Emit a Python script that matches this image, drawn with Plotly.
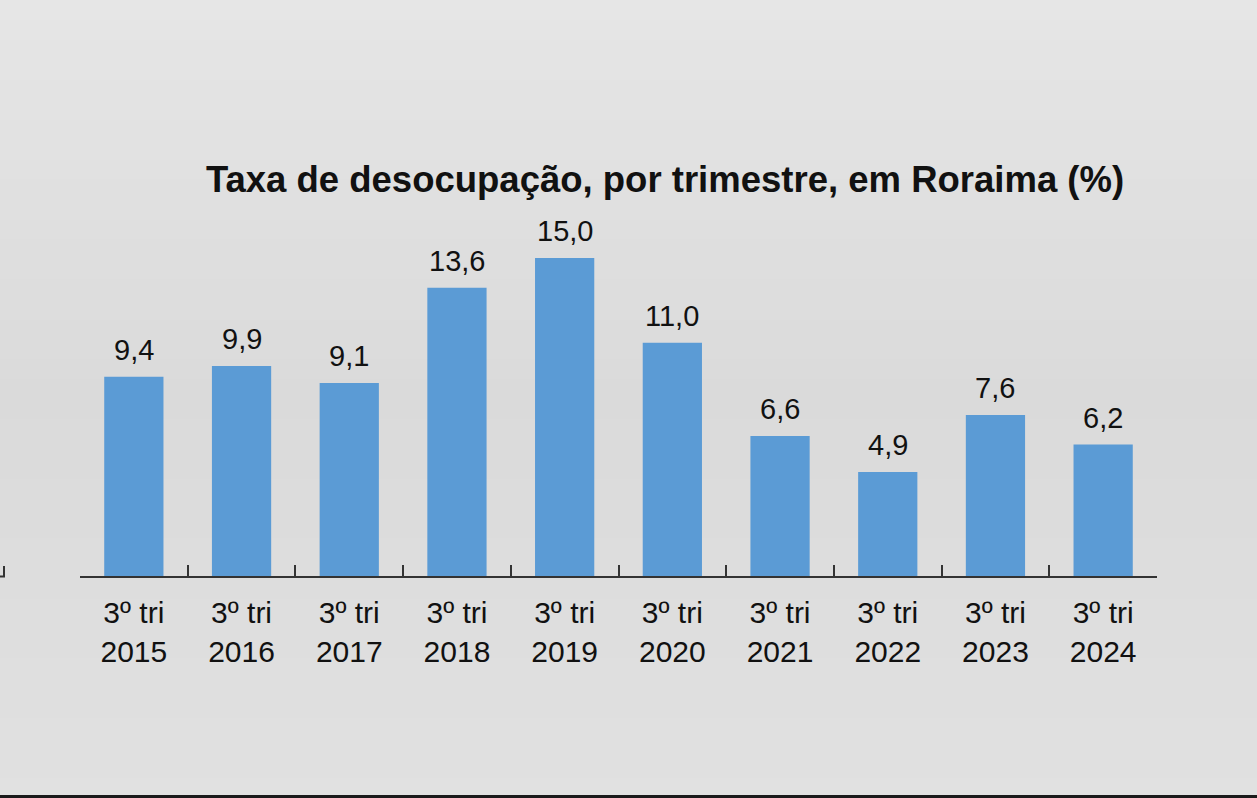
import plotly.graph_objects as go

categories = ["3º tri<br>2015", "3º tri<br>2016", "3º tri<br>2017", "3º tri<br>2018", "3º tri<br>2019",
              "3º tri<br>2020", "3º tri<br>2021", "3º tri<br>2022", "3º tri<br>2023", "3º tri<br>2024"]
values = [9.4, 9.9, 9.1, 13.6, 15.0, 11.0, 6.6, 4.9, 7.6, 6.2]
labels = ["9,4", "9,9", "9,1", "13,6", "15,0", "11,0", "6,6", "4,9", "7,6", "6,2"]
title_text = "Taxa de desocupação, por trimestre, em Roraima (%)"

W, H = 1257, 798
ML, MR, MT, MB = 80, 100, 152, 222
PH = H - MT - MB
PW = W - ML - MR
FONT = "Liberation Sans, Arial, sans-serif"

def py(p):
    return (H - MB - p) / PH

def px(p):
    return (p - ML) / PW

fig = go.Figure()
fig.add_trace(go.Bar(
    x=categories, y=values,
    marker=dict(color="#5B9BD5", line=dict(width=0)),
    width=0.55,
    hoverinfo="skip",
))

for c, v, t in zip(categories, values, labels):
    fig.add_annotation(x=c, y=v, text=t, showarrow=False, yanchor="bottom",
                       yshift=9, font=dict(family=FONT, size=29, color="#111111"))

shapes = []
# background gradient bands
stops = [(0, 0xe6), (0.5, 0xda), (1.0, 0xe1)]
nb = 40
for i in range(nb):
    f = (i + 0.5) / nb
    if f < 0.5:
        g = stops[0][1] + (stops[1][1] - stops[0][1]) * (f / 0.5)
    else:
        g = stops[1][1] + (stops[2][1] - stops[1][1]) * ((f - 0.5) / 0.5)
    g = int(round(g))
    col = "#%02x%02x%02x" % (g, g, g)
    y0p = i * H / nb
    y1p = (i + 1) * H / nb + 1
    shapes.append(dict(type="rect", xref="paper", yref="paper", layer="below",
                       x0=px(0), x1=px(W), y0=py(y1p), y1=py(y0p),
                       fillcolor=col, line=dict(width=0)))
# bottom dark strip
shapes.append(dict(type="rect", xref="paper", yref="paper", layer="above",
                   x0=px(0), x1=px(W), y0=py(H + 2), y1=py(795),
                   fillcolor="#1a1a1a", line=dict(width=0)))
# stray tick at left edge
shapes.append(dict(type="path", xref="paper", yref="paper", layer="above",
                   path="M %f,%f L %f,%f L %f,%f" % (px(-2), py(576.5), px(4), py(576.5), px(4), py(566)),
                   line=dict(color="#333333", width=2)))

fig.update_layout(
    width=W, height=H,
    margin=dict(l=ML, r=MR, t=MT, b=MB),
    paper_bgcolor="#dedede",
    plot_bgcolor="rgba(0,0,0,0)",
    showlegend=False,
    shapes=shapes,
    title=dict(text="<b>" + title_text + "</b>", x=px(665), xanchor="center",
               xref="paper", yref="container", y=(H - 179) / H, yanchor="middle",
               font=dict(family=FONT, size=36.5, color="#111111")),
    xaxis=dict(type="category", range=[-0.5, 9.5], showline=True, linecolor="#333333",
               linewidth=2, ticks="inside", ticklen=11, tickwidth=2, tickcolor="#333333",
               tickson="boundaries", showgrid=False, zeroline=False, ticklabelstandoff=9,
               tickfont=dict(family=FONT, size=30, color="#111111"), fixedrange=True),
    yaxis=dict(range=[0, 20], visible=False, fixedrange=True),
)

fig.write_html("out.html", config={"displayModeBar": False},
               post_script="document.body.style.margin='0';")
